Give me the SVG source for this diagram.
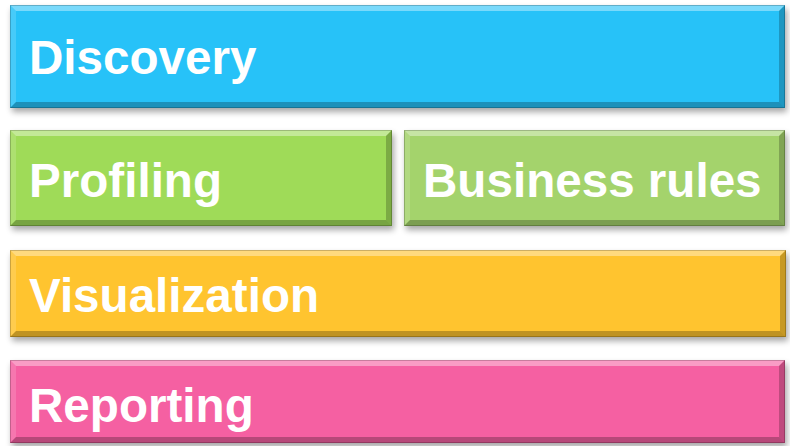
<svg xmlns="http://www.w3.org/2000/svg" width="790" height="446" viewBox="0 0 790 446">
<defs>
<filter id="sh" x="-5%" y="-20%" width="110%" height="150%"><feGaussianBlur stdDeviation="3"/></filter>
<style>
.shadow{fill:#000;opacity:0.35;filter:url(#sh)}
.bt{fill:#fff;opacity:0.38}
.bl{fill:#fff;opacity:0.15}
.br{fill:#000;opacity:0.22}
.bb{fill:#000;opacity:0.25}
.edge{fill:none;stroke:#000;stroke-opacity:0.2;stroke-width:1}
.lbl{font-family:"Liberation Sans",Arial,sans-serif;font-weight:bold;font-size:47.6px;fill:#fff}
</style>
</defs>
<rect width="790" height="446" fill="#fff"/>
<g id="discovery">
<rect class="shadow" x="12" y="9" width="775" height="103"/>
<rect x="10" y="5" width="775" height="103" fill="#27C2F8"/>
<polygon class="bt" points="10,5 785,5 779,11 16,11"/>
<polygon class="bl" points="10,5 16,11 16,102 10,108"/>
<polygon class="br" points="785,5 785,108 779,102 779,11"/>
<polygon class="bb" points="10,108 785,108 779,102 16,102"/>
<rect class="edge" x="10.5" y="5.5" width="774" height="102"/>
<text class="lbl" x="29" y="74">Discovery</text>
</g>
<g id="profiling">
<rect class="shadow" x="12" y="134" width="382" height="96"/>
<rect x="10" y="130" width="382" height="96" fill="#9FDB58"/>
<polygon class="bt" points="10,130 392,130 386,136 16,136"/>
<polygon class="bl" points="10,130 16,136 16,220 10,226"/>
<polygon class="br" points="392,130 392,226 386,220 386,136"/>
<polygon class="bb" points="10,226 392,226 386,220 16,220"/>
<rect class="edge" x="10.5" y="130.5" width="381" height="95"/>
<text class="lbl" x="29" y="197">Profiling</text>
</g>
<g id="business-rules">
<rect class="shadow" x="406" y="134" width="381" height="96"/>
<rect x="404" y="130" width="381" height="96" fill="#A4D36C"/>
<polygon class="bt" points="404,130 785,130 779,136 410,136"/>
<polygon class="bl" points="404,130 410,136 410,220 404,226"/>
<polygon class="br" points="785,130 785,226 779,220 779,136"/>
<polygon class="bb" points="404,226 785,226 779,220 410,220"/>
<rect class="edge" x="404.5" y="130.5" width="380" height="95"/>
<text class="lbl" x="423" y="197">Business rules</text>
</g>
<g id="visualization">
<rect class="shadow" x="12" y="254" width="776" height="87"/>
<rect x="10" y="250" width="776" height="87" fill="#FFC42F"/>
<polygon class="bt" points="10,250 786,250 780,256 16,256"/>
<polygon class="bl" points="10,250 16,256 16,331 10,337"/>
<polygon class="br" points="786,250 786,337 780,331 780,256"/>
<polygon class="bb" points="10,337 786,337 780,331 16,331"/>
<rect class="edge" x="10.5" y="250.5" width="775" height="86"/>
<text class="lbl" x="29" y="312">Visualization</text>
</g>
<g id="reporting">
<rect class="shadow" x="12" y="364" width="775" height="83"/>
<rect x="10" y="360" width="775" height="83" fill="#F560A2"/>
<polygon class="bt" points="10,360 785,360 779,366 16,366"/>
<polygon class="bl" points="10,360 16,366 16,437 10,443"/>
<polygon class="br" points="785,360 785,443 779,437 779,366"/>
<polygon class="bb" points="10,443 785,443 779,437 16,437"/>
<rect class="edge" x="10.5" y="360.5" width="774" height="82"/>
<text class="lbl" x="29" y="422">Reporting</text>
</g>
<g id="connectors"></g>
</svg>
